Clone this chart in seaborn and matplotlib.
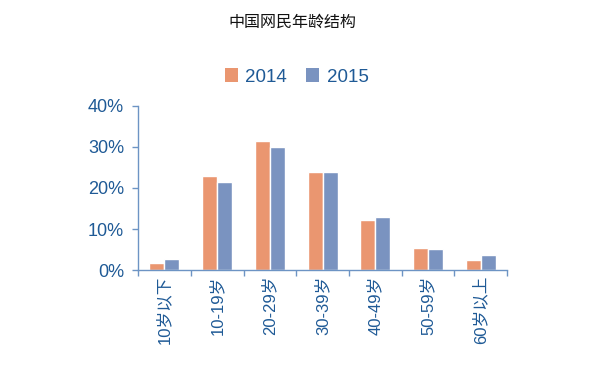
import matplotlib
matplotlib.use("Agg")
import matplotlib.pyplot as plt
import seaborn as sns
import pandas as pd
import numpy as np
from matplotlib.ticker import FixedLocator, PercentFormatter
from matplotlib.patches import Patch

categories = ["10岁以下", "10-19岁", "20-29岁", "30-39岁", "40-49岁", "50-59岁", "60岁以上"]
v2014 = [1.7, 22.8, 31.5, 23.8, 12.3, 5.4, 2.4]
v2015 = [2.6, 21.4, 29.9, 23.8, 13.0, 5.2, 3.7]
years = ["2014", "2015"]
yticks = [0, 10, 20, 30, 40]

df = pd.DataFrame({
    "cat": categories * 2,
    "val": v2014 + v2015,
    "year": [years[0]] * len(categories) + [years[1]] * len(categories),
})

sns.set_theme(style="white")
plt.rcParams["font.family"] = ["Liberation Sans", "Noto Sans CJK SC"]

axis_col = "#6d94c4"
text_col = "#1f5a96"
palette = {"2014": "#ea9670", "2015": "#7a93c0"}

fig = plt.figure(figsize=(6.03, 3.70), dpi=100)
ax = fig.add_axes([0.229, 0.270, 0.612, 0.444])
sns.barplot(data=df, x="cat", y="val", hue="year", palette=palette,
            width=0.57, dodge=True, saturation=1, ax=ax, legend=False)

ax.set_xlim(-0.5, 6.5)
ax.set_ylim(0, 40)
ax.set_yticks(yticks)
ax.yaxis.set_major_formatter(PercentFormatter(decimals=0))
ax.set_xlabel("")
ax.set_ylabel("")
for s in ["top", "right"]:
    ax.spines[s].set_visible(False)
for s in ["left", "bottom"]:
    ax.spines[s].set_color(axis_col)
    ax.spines[s].set_linewidth(1.0)

ax.tick_params(axis="y", which="major", length=4, width=1, color=axis_col,
               labelcolor=text_col, labelsize=13, left=True, pad=6)
ax.tick_params(axis="x", which="major", length=0, labelcolor=text_col,
               labelsize=12, rotation=90, pad=4)
ax.xaxis.set_minor_locator(FixedLocator(np.arange(-0.5, 7.0, 1.0)))
ax.tick_params(axis="x", which="minor", length=4, width=1, color=axis_col,
               bottom=True, direction="out")

fig.text(0.485, 0.94, "中国网民年龄结构", ha="center", va="center",
         fontsize=11.5, color="#111111")

handles = [Patch(facecolor=palette[y], edgecolor="none") for y in years]
leg = fig.legend(handles, years, loc="center", bbox_to_anchor=(0.492, 0.792),
                 ncol=2, frameon=False, fontsize=13.5, handlelength=0.7,
                 handleheight=0.7, handletextpad=0.4, columnspacing=1.0)
for t in leg.get_texts():
    t.set_color(text_col)

fig.savefig("out.png", dpi=100)
